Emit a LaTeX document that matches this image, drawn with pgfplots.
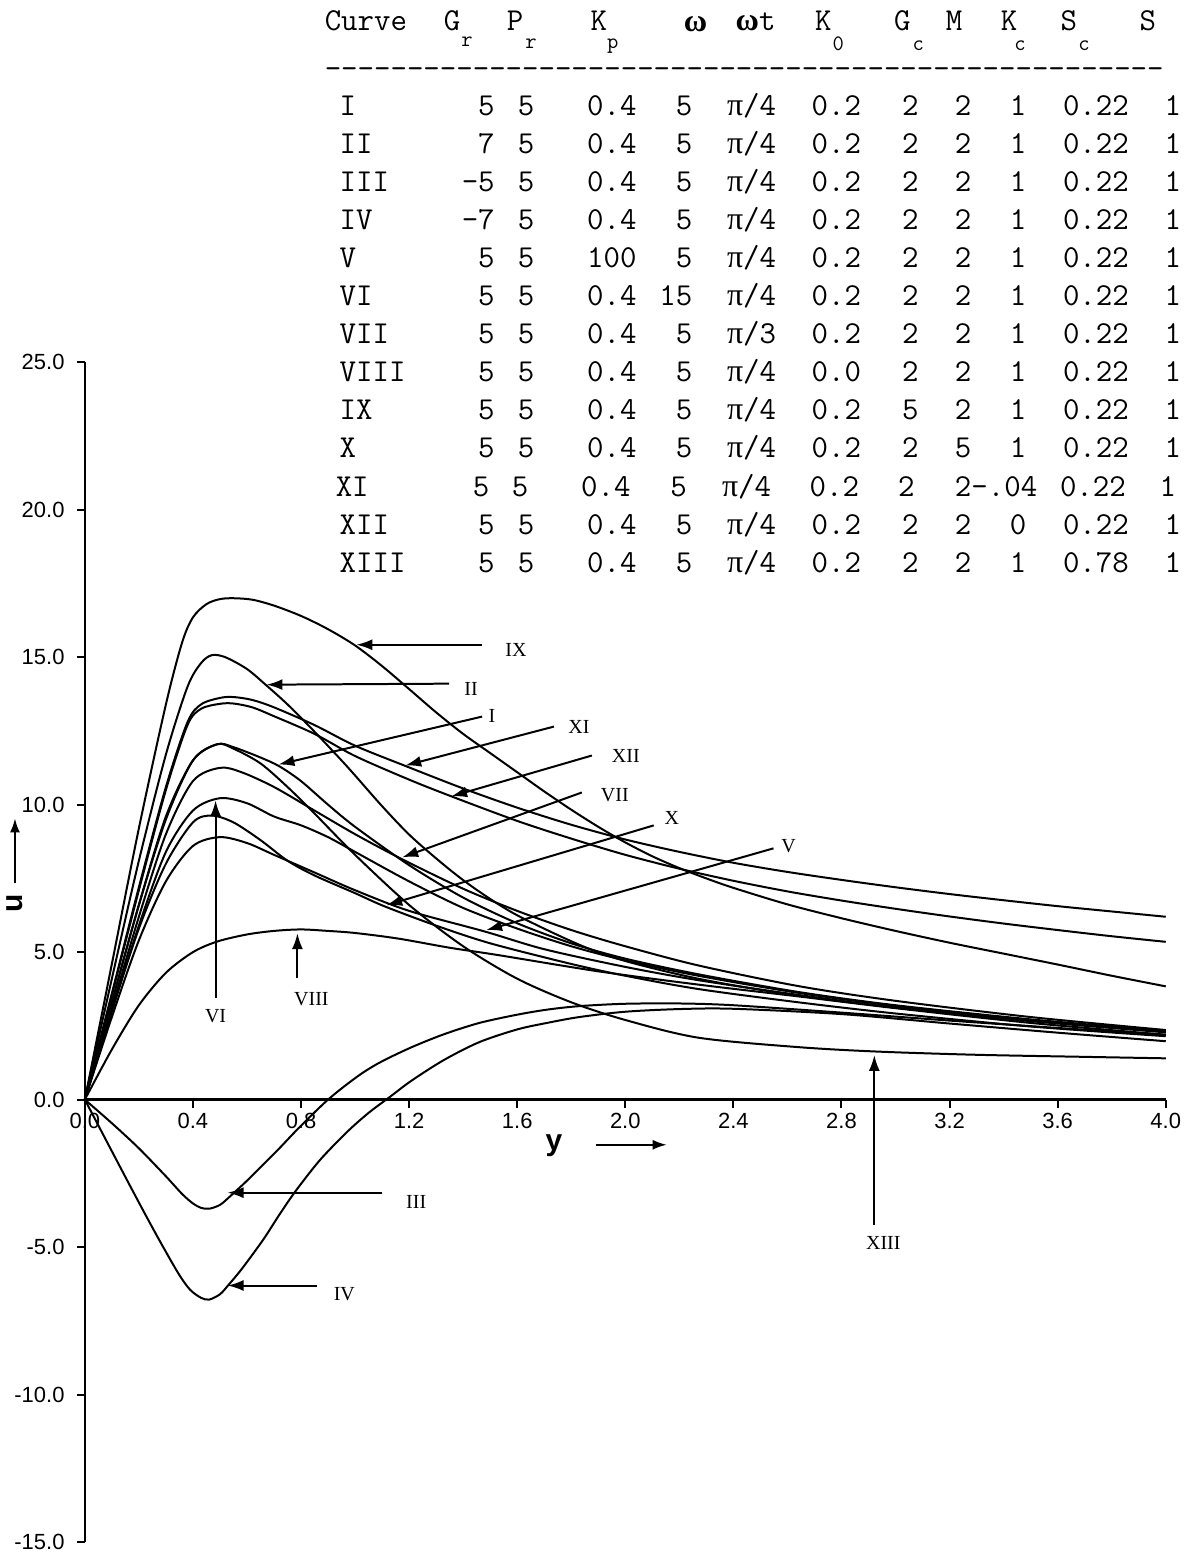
\documentclass[border=0pt]{standalone}
\usepackage{fontspec}
\setmainfont{Liberation Sans}
\newfontfamily\tms{Liberation Serif}
\usepackage{pgfplots}
\pgfplotsset{compat=1.18}
\usetikzlibrary{arrows.meta}

\newcommand{\tfont}{\ttfamily\fontsize{16}{18}\selectfont}
\newcommand{\sfont}{\ttfamily\fontsize{11}{13}\selectfont}
\newcommand{\PI}{{\tms π}}

\begin{document}
\begin{tikzpicture}
\begin{axis}[
  scale only axis, width=541.5pt, height=591pt,
  at={(0,0)}, anchor=south west,
  xmin=0, xmax=4, ymin=-15, ymax=25,
  axis x line=middle, axis y line=left,
  axis line style={-, line width=1.3pt},
  hide obscured x ticks=false, hide obscured y ticks=false,
  xtick={0,0.4,0.8,1.2,1.6,2.0,2.4,2.8,3.2,3.6,4.0},
  xticklabels={0.0,0.4,0.8,1.2,1.6,2.0,2.4,2.8,3.2,3.6,4.0},
  ytick={-15,-10,-5,0,5,10,15,20,25},
  yticklabels={-15.0,-10.0,-5.0,0.0,5.0,10.0,15.0,20.0,25.0},
  tick align=outside, major tick length=4pt,
  tick style={black, line width=1pt},
  ticklabel style={font=\fontsize{11}{13}\selectfont, inner sep=0pt},
  xticklabel style={anchor=north, yshift=-2.5pt},
  yticklabel style={anchor=east, xshift=-6pt},
  clip=false,
  crv/.style={black, solid, line width=1pt, smooth, mark=none},
]
% IX
\addplot[crv] coordinates {(0,0) (0.1,4.6) (0.2,9.2) (0.3,13.4) (0.36,15.5) (0.4,16.35) (0.45,16.8) (0.5,16.97) (0.55,17.0) (0.62,16.95) (0.7,16.75) (0.8,16.4) (0.9,15.95) (1.0,15.4) (1.1,14.7) (1.2,13.92) (1.3,13.13) (1.4,12.4) (1.5,11.75) (1.6,11.1) (1.7,10.45) (1.8,9.83) (1.9,9.25) (2.0,8.72) (2.1,8.25) (2.2,7.85) (2.3,7.5) (2.4,7.18) (2.6,6.62) (2.8,6.15) (3.0,5.72) (3.2,5.32) (3.4,4.95) (3.6,4.58) (3.8,4.2) (4.0,3.84)};
% II
\addplot[crv] coordinates {(0,0) (0.1,4.1) (0.2,8.1) (0.3,11.7) (0.38,14.0) (0.43,14.8) (0.47,15.07) (0.52,15.0) (0.6,14.6) (0.67,14.06) (0.75,13.4) (0.84,12.57) (0.97,11.3) (1.1,9.95) (1.21,8.9) (1.35,7.8) (1.46,7.05) (1.6,6.25) (1.83,5.25) (2.0,4.7) (2.27,4.1) (2.6,3.58) (3.0,3.12) (3.4,2.76) (3.8,2.46) (4.0,2.33)};
% XI
\addplot[crv] coordinates {(0,0) (0.1,3.6) (0.2,7.2) (0.3,10.6) (0.38,12.8) (0.43,13.4) (0.5,13.62) (0.55,13.65) (0.62,13.55) (0.7,13.3) (0.85,12.7) (1.0,12.0) (1.19,11.3) (1.4,10.55) (1.6,9.9) (1.8,9.32) (2.0,8.82) (2.2,8.4) (2.4,8.03) (2.6,7.72) (2.8,7.45) (3.0,7.2) (3.2,6.97) (3.4,6.76) (3.6,6.56) (3.8,6.38) (4.0,6.2)};
% XII
\addplot[crv] coordinates {(0,0) (0.1,3.55) (0.2,7.1) (0.3,10.5) (0.38,12.7) (0.43,13.25) (0.5,13.42) (0.55,13.43) (0.62,13.3) (0.7,13.0) (0.85,12.4) (1.0,11.65) (1.2,10.85) (1.36,10.27) (1.6,9.45) (1.8,8.85) (2.0,8.3) (2.2,7.83) (2.4,7.42) (2.6,7.06) (2.8,6.75) (3.0,6.47) (3.2,6.21) (3.4,5.97) (3.6,5.75) (3.8,5.54) (4.0,5.35)};
% I
\addplot[crv] coordinates {(0,0) (0.1,3.3) (0.2,6.6) (0.3,9.6) (0.4,11.5) (0.49,12.05) (0.55,11.95) (0.65,11.6) (0.72,11.3) (0.8,10.8) (0.9,10.0) (1.0,9.25) (1.2,7.95) (1.4,6.85) (1.6,5.98) (1.8,5.3) (2.0,4.78) (2.27,4.25) (2.64,3.65) (3.0,3.2) (3.5,2.72) (4.0,2.33)};
% XIII
\addplot[crv] coordinates {(0,0) (0.1,3.3) (0.2,6.6) (0.3,9.5) (0.4,11.5) (0.49,12.05) (0.55,11.9) (0.65,11.4) (0.75,10.6) (0.85,9.7) (1.0,8.3) (1.2,6.6) (1.4,5.2) (1.6,4.1) (1.8,3.3) (2.0,2.7) (2.27,2.1) (2.64,1.78) (2.93,1.63) (3.3,1.52) (3.7,1.45) (4.0,1.40)};
% VII
\addplot[crv] coordinates {(0,0) (0.1,3.1) (0.2,6.2) (0.3,9.0) (0.4,10.8) (0.5,11.25) (0.58,11.1) (0.7,10.6) (0.85,9.8) (1.0,9.0) (1.17,8.17) (1.4,7.15) (1.6,6.4) (1.8,5.75) (2.0,5.2) (2.27,4.55) (2.64,3.85) (3.0,3.35) (3.5,2.8) (4.0,2.36)};
% VI
\addplot[crv] coordinates {(0,0) (0.1,3.0) (0.2,5.9) (0.3,8.4) (0.4,9.8) (0.5,10.22) (0.6,10.05) (0.7,9.6) (0.8,9.3) (0.9,8.9) (1.0,8.4) (1.2,7.4) (1.4,6.5) (1.6,5.8) (1.8,5.2) (2.0,4.72) (2.27,4.2) (2.64,3.62) (3.0,3.18) (3.5,2.7) (4.0,2.3)};
% X
\addplot[crv] coordinates {(0,0) (0.1,3.0) (0.2,5.8) (0.3,8.0) (0.4,9.4) (0.47,9.63) (0.55,9.4) (0.65,8.8) (0.75,8.1) (0.85,7.6) (1.0,7.0) (1.11,6.55) (1.3,5.9) (1.5,5.3) (1.8,4.6) (2.0,4.2) (2.27,3.75) (2.64,3.3) (3.0,2.92) (3.5,2.48) (4.0,2.15)};
% V
\addplot[crv] coordinates {(0,0) (0.1,2.8) (0.2,5.4) (0.3,7.4) (0.4,8.6) (0.5,8.9) (0.6,8.7) (0.7,8.3) (0.85,7.7) (1.0,7.1) (1.2,6.4) (1.48,5.7) (1.7,5.1) (2.0,4.5) (2.27,4.05) (2.64,3.55) (3.0,3.12) (3.5,2.66) (4.0,2.28)};
% VIII
\addplot[crv] coordinates {(0,0) (0.1,1.7) (0.2,3.2) (0.3,4.3) (0.4,5.0) (0.49,5.36) (0.6,5.6) (0.7,5.72) (0.8,5.77) (0.9,5.72) (1.0,5.65) (1.16,5.46) (1.35,5.15) (1.53,4.9) (1.9,4.35) (2.27,3.9) (2.64,3.5) (3.0,3.1) (3.5,2.6) (4.0,2.2)};
% III
\addplot[crv] coordinates {(0,0) (0.1,-0.8) (0.2,-1.65) (0.3,-2.6) (0.36,-3.2) (0.4,-3.52) (0.43,-3.67) (0.46,-3.7) (0.5,-3.57) (0.535,-3.3) (0.6,-2.75) (0.66,-2.2) (0.72,-1.65) (0.78,-1.07) (0.84,-0.52) (0.90,0) (0.96,0.45) (1.03,0.92) (1.1,1.3) (1.21,1.78) (1.33,2.22) (1.46,2.6) (1.6,2.88) (1.71,3.05) (1.83,3.17) (2.0,3.25) (2.2,3.26) (2.4,3.2) (2.8,2.95) (3.2,2.68) (3.6,2.43) (4.0,2.2)};
% IV
\addplot[crv] coordinates {(0,0) (0.08,-1.4) (0.166,-2.9) (0.23,-4.0) (0.29,-5.0) (0.35,-5.95) (0.39,-6.45) (0.43,-6.72) (0.46,-6.78) (0.5,-6.6) (0.53,-6.3) (0.58,-5.75) (0.66,-4.75) (0.72,-3.9) (0.78,-3.1) (0.87,-2.05) (0.97,-1.1) (1.05,-0.45) (1.13,0.1) (1.21,0.65) (1.33,1.35) (1.46,1.95) (1.6,2.38) (1.71,2.6) (1.83,2.8) (2.0,2.98) (2.2,3.07) (2.4,3.08) (2.8,2.9) (3.2,2.58) (3.6,2.27) (4.0,1.98)};
\end{axis}

\begin{scope}[x=0.5pt, y=-0.5pt, shift={(-42.5pt,772.5pt)}]
% table header
\node[anchor=mid west, inner sep=0pt, font=\tfont] at (325,25) {Curve};
\node[inner sep=0pt, font=\tfont, anchor=mid] at (453,25) {G};
\node[inner sep=0pt, font=\sfont, anchor=mid] at (468,41) {r};
\node[inner sep=0pt, font=\tfont, anchor=mid] at (516,25) {P};
\node[inner sep=0pt, font=\sfont, anchor=mid] at (532,43) {r};
\node[inner sep=0pt, font=\tfont, anchor=mid] at (600,25) {K};
\node[inner sep=0pt, font=\sfont, anchor=mid] at (614,43) {p};
\node[inner sep=0pt, font=\tms\bfseries\fontsize{16}{18}\selectfont, anchor=mid] at (697,26) {ω};
\node[inner sep=0pt, font=\tfont, anchor=mid] at (757,25) {{\tms\bfseries\fontsize{16}{18}\selectfont ω}t};
\node[inner sep=0pt, font=\tfont, anchor=mid] at (825,25) {K};
\node[inner sep=0pt, font=\sfont, anchor=mid] at (840,45) {0};
\node[inner sep=0pt, font=\tfont, anchor=mid] at (904,25) {G};
\node[inner sep=0pt, font=\sfont, anchor=mid] at (920,45) {c};
\node[inner sep=0pt, font=\tfont, anchor=mid] at (956,25) {M};
\node[inner sep=0pt, font=\tfont, anchor=mid] at (1011,25) {K};
\node[inner sep=0pt, font=\sfont, anchor=mid] at (1022,45) {c};
\node[inner sep=0pt, font=\tfont, anchor=mid] at (1071,25) {S};
\node[inner sep=0pt, font=\sfont, anchor=mid] at (1086,45) {c};
\node[inner sep=0pt, font=\tfont, anchor=mid] at (1150,25) {S};
\node[anchor=mid west, inner sep=0pt, font=\tfont] at (325,73) {---------------------------------------------------};
% table rows: Curve/Gr/Pr/Kp/omega/omega t/K0/Gc/M/Kc/Sc   (S = 1)
\foreach \lab/\gr/\pr/\kp/\w/\wt/\ko/\gc/\m/\kc/\sc [count=\i from 0] in {
  I/5/5/0.4/5/{\PI/4}/0.2/2/2/1/0.22,
  II/7/5/0.4/5/{\PI/4}/0.2/2/2/1/0.22,
  III/-5/5/0.4/5/{\PI/4}/0.2/2/2/1/0.22,
  IV/-7/5/0.4/5/{\PI/4}/0.2/2/2/1/0.22,
  V/5/5/100/5/{\PI/4}/0.2/2/2/1/0.22,
  VI/5/5/0.4/15/{\PI/4}/0.2/2/2/1/0.22,
  VII/5/5/0.4/5/{\PI/3}/0.2/2/2/1/0.22,
  VIII/5/5/0.4/5/{\PI/4}/0.0/2/2/1/0.22,
  IX/5/5/0.4/5/{\PI/4}/0.2/5/2/1/0.22,
  X/5/5/0.4/5/{\PI/4}/0.2/2/5/1/0.22,
  SKIP/5/5/0.4/5/{\PI/4}/0.2/2/2/1/0.22,
  XII/5/5/0.4/5/{\PI/4}/0.2/2/2/0/0.22,
  XIII/5/5/0.4/5/{\PI/4}/0.2/2/2/1/0.78} {
  \pgfmathsetmacro{\yy}{110+38.17*\i}
  \ifnum\i=10\else
  \node[anchor=mid west, inner sep=0pt, font=\tfont] at (340,\yy) {\lab};
  \node[anchor=mid east, inner sep=0pt, font=\tfont] at (496,\yy) {\gr};
  \node[anchor=mid, inner sep=0pt, font=\tfont] at (527,\yy) {\pr};
  \node[anchor=mid, inner sep=0pt, font=\tfont] at (613,\yy) {\kp};
  \node[anchor=mid east, inner sep=0pt, font=\tfont] at (694,\yy) {\w};
  \node[anchor=mid, inner sep=0pt, font=\tfont] at (753,\yy) {\wt};
  \node[anchor=mid, inner sep=0pt, font=\tfont] at (838,\yy) {\ko};
  \node[anchor=mid, inner sep=0pt, font=\tfont] at (912,\yy) {\gc};
  \node[anchor=mid, inner sep=0pt, font=\tfont] at (965,\yy) {\m};
  \node[anchor=mid, inner sep=0pt, font=\tfont] at (1020,\yy) {\kc};
  \node[anchor=mid, inner sep=0pt, font=\tfont] at (1098,\yy) {\sc};
  \node[anchor=mid, inner sep=0pt, font=\tfont] at (1175,\yy) {1};
  \fi
}
% row XI
\node[anchor=mid west, inner sep=0pt, font=\tfont] at (336,491.7) {XI};
\node[anchor=mid, inner sep=0pt, font=\tfont] at (482,491.7) {5};
\node[anchor=mid, inner sep=0pt, font=\tfont] at (521,491.7) {5};
\node[anchor=mid, inner sep=0pt, font=\tfont] at (607,491.7) {0.4};
\node[anchor=mid, inner sep=0pt, font=\tfont] at (680,491.7) {5};
\node[anchor=mid, inner sep=0pt, font=\tfont] at (748,491.7) {\PI/4};
\node[anchor=mid, inner sep=0pt, font=\tfont] at (836,491.7) {0.2};
\node[anchor=mid, inner sep=0pt, font=\tfont] at (908,491.7) {2};
\node[anchor=mid, inner sep=0pt, font=\tfont] at (998,491.7) {2-.04};
\node[anchor=mid, inner sep=0pt, font=\tfont] at (1095,491.7) {0.22};
\node[anchor=mid, inner sep=0pt, font=\tfont] at (1170,491.7) {1};

% axis labels
\node[rotate=90, font=\bfseries\fontsize{15}{17}\selectfont, inner sep=0pt] at (15,905) {u};
\draw[line width=1pt, -{Latex[length=7pt,width=5pt]}] (15,885) -- (15,820);
\node[font=\bfseries\fontsize{15}{17}\selectfont, inner sep=0pt] at (555,1148) {y};
\draw[line width=1pt, -{Latex[length=7pt,width=5pt]}] (597,1147) -- (668,1147);

% curve annotations
\tikzset{ann/.style={line width=1pt, -{Latex[length=8pt,width=5.5pt]}},
         cl/.style={font=\tms\fontsize{10}{12}\selectfont, inner sep=0pt}}
\draw[ann] (483,646) -- (357,646);  \node[cl] at (517,651) {IX};
\draw[ann] (450,685) -- (267,686);  \node[cl] at (472,690) {II};
\draw[ann] (483,718) -- (279,766);  \node[cl] at (493,717) {I};
\draw[ann] (555,728) -- (406,767);  \node[cl] at (580,728) {XI};
\draw[ann] (593,757) -- (452,798);  \node[cl] at (627,757) {XII};
\draw[ann] (583,794) -- (403,859);  \node[cl] at (616,797) {VII};
\draw[ann] (655,827) -- (387,907);  \node[cl] at (673,820) {X};
\draw[ann] (775,850) -- (487,932);  \node[cl] at (790,848) {V};
\draw[ann] (216,1000) -- (216,802); \node[cl] at (216,1018) {VI};
\draw[ann] (298,980) -- (298,935);  \node[cl] at (312,1001) {VIII};
\draw[ann] (876,1227) -- (876,1057); \node[cl] at (885,1245) {XIII};
\draw[ann] (383,1195) -- (228,1195); \node[cl] at (417,1204) {III};
\draw[ann] (318,1288) -- (228,1288); \node[cl] at (345,1297) {IV};

\pgfresetboundingbox
\path[use as bounding box] (0,0) rectangle (1193,1556);
\end{scope}
\end{tikzpicture}
\end{document}
